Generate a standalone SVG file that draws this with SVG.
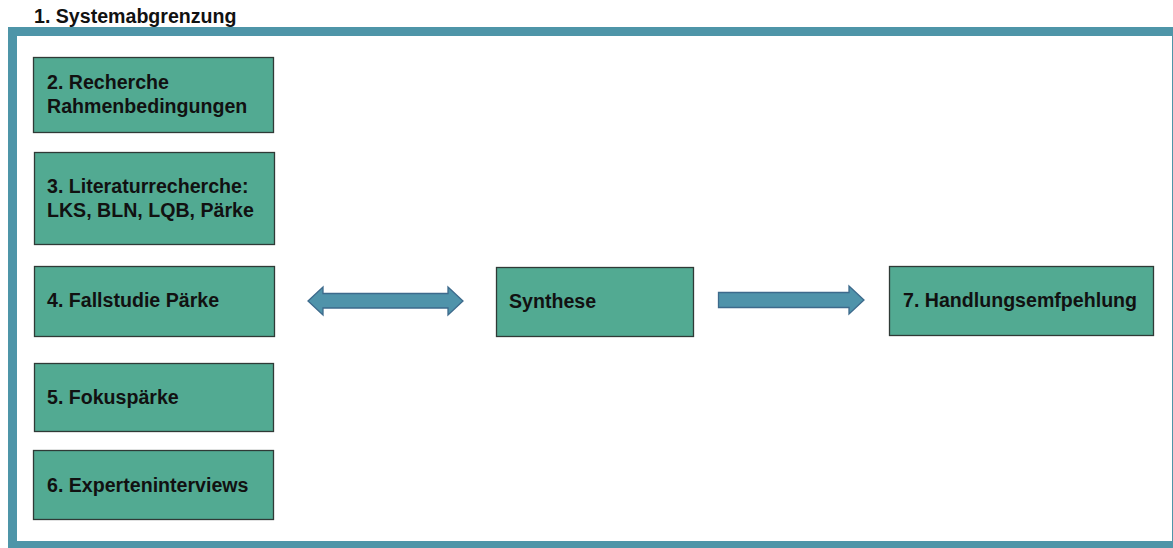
<svg xmlns="http://www.w3.org/2000/svg" width="1173" height="548" viewBox="0 0 1173 548">
<style>
.box{fill:#52AA92;stroke:#2f3a36;stroke-width:1.3}
.t{font-family:"Liberation Sans",Arial,sans-serif;font-weight:bold;font-size:19.6px;fill:#111}
.arr{fill:#4F93AA;stroke:#3D6A8C;stroke-width:1.3}
</style>
<rect width="1173" height="548" fill="#fff"/>
<g id="frame">
<rect x="12.5" y="31.5" width="1164" height="514" fill="none" stroke="#4E95A8" stroke-width="9"/>
<text class="t" x="34" y="23">1. Systemabgrenzung</text>
</g>
<g id="n2"><rect class="box" x="33.5" y="57.5" width="240" height="75"/><text class="t" x="47" y="89">2. Recherche</text><text class="t" x="47" y="113">Rahmenbedingungen</text></g>
<g id="n3"><rect class="box" x="34.5" y="152.5" width="240" height="92"/><text class="t" x="47" y="193">3. Literaturrecherche:</text><text class="t" x="47" y="217">LKS, BLN, LQB, Pärke</text></g>
<g id="n4"><rect class="box" x="34.5" y="266.5" width="240" height="70"/><text class="t" x="47" y="307">4. Fallstudie Pärke</text></g>
<g id="n5"><rect class="box" x="34.5" y="363.5" width="239" height="68"/><text class="t" x="47" y="404">5. Fokuspärke</text></g>
<g id="n6"><rect class="box" x="33.5" y="450.5" width="240" height="69"/><text class="t" x="47" y="492">6. Experteninterviews</text></g>
<g id="synthese"><rect class="box" x="496.5" y="267.5" width="197" height="69"/><text class="t" x="509" y="308">Synthese</text></g>
<g id="n7"><rect class="box" x="889.5" y="266.5" width="264" height="69"/><text class="t" x="903" y="307">7. Handlungsemfpehlung</text></g>
<g id="connectors">
<path class="arr" d="M308,301 L323,287 L323,293.5 L448,293.5 L448,287 L463,301 L448,315 L448,308 L323,308 L323,315 Z"/>
<path class="arr" d="M718.5,292.5 L849,292.5 L849,286 L864,300 L849,314 L849,307.5 L718.5,307.5 Z"/>
</g>
</svg>
